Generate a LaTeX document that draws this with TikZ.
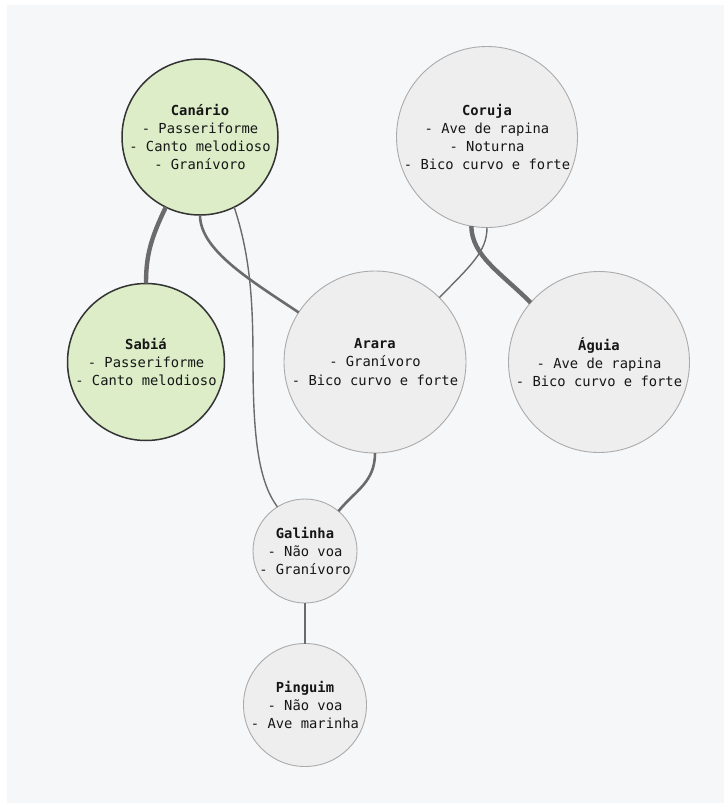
\documentclass[tikz,border=0pt]{standalone}
\usepackage{fontspec}
\setmonofont{DejaVu Sans Mono}
\definecolor{canvas}{HTML}{F6F7F9}
\definecolor{greenfill}{HTML}{DCEDC8}
\definecolor{greenline}{HTML}{333333}
\definecolor{greyfill}{HTML}{EEEEEE}
\definecolor{greyline}{HTML}{ABABAB}
\definecolor{edgecol}{HTML}{6B6B6B}
\definecolor{txt}{HTML}{161616}
\tikzset{
  bird/.style={circle, inner sep=0pt, outer sep=0pt},
  seen/.style={bird, fill=greenfill, draw=greenline, line width=1.5pt},
  plain/.style={bird, fill=greyfill, draw=greyline, line width=0.9pt},
  info/.style={align=center, font=\ttfamily\fontsize{13.8}{18.3}\selectfont, text=txt, inner sep=0pt},
  strong/.style={draw=edgecol, line width=4.4pt},
  medium/.style={draw=edgecol, line width=2.6pt},
  weak/.style={draw=edgecol, line width=1.4pt},
}
\begin{document}
\begin{tikzpicture}[x=1pt, y=-1pt]
\useasboundingbox (0,0) rectangle (724,803);
\fill[white] (0,0) rectangle (724,803);
\fill[canvas] (7,5) rectangle (724,803);

% circles
\node[seen,  minimum size=156pt] (canario) at (200,137) {};
\node[plain, minimum size=181pt] (coruja)  at (487,137) {};
\node[seen,  minimum size=157pt] (sabia)   at (146,362) {};
\node[plain, minimum size=182pt] (arara)   at (375,362) {};
\node[plain, minimum size=181pt] (aguia)   at (599,362) {};
\node[plain, minimum size=104pt] (galinha) at (305,551) {};
\node[plain, minimum size=123pt] (pinguim) at (305,705) {};

% connections
\draw[strong] (canario.244) .. controls (151,238) and (146,255) .. (sabia.90);
\draw[medium] (canario.270) .. controls (200,250) and (250,280) .. (arara.147);
\draw[weak] (canario.296) .. controls (250,255) and (253,300) .. (253,360)
            .. controls (253,440) and (259,482) .. (galinha.122);
\draw[weak] (coruja.270) .. controls (487,252) and (470,266) .. (arara.45);
\draw[strong] (coruja.260) .. controls (472,256) and (500,272) .. (aguia.139);
\draw[medium] (arara.270) .. controls (375,482) and (356,490) .. (galinha.50);
\draw[medium] (galinha.270) -- (pinguim.90);

% labels
\node[info] (canario-t) at (canario) {\textbf{Canário}\\- Passeriforme\\- Canto melodioso\\- Granívoro};
\node[info] (coruja-t)  at (coruja)  {\textbf{Coruja}\\- Ave de rapina\\- Noturna\\- Bico curvo e forte};
\node[info] (sabia-t)   at (sabia)   {\textbf{Sabiá}\\- Passeriforme\\- Canto melodioso};
\node[info] (arara-t)   at (arara)   {\textbf{Arara}\\- Granívoro\\- Bico curvo e forte};
\node[info] (aguia-t)   at (aguia)   {\textbf{Águia}\\- Ave de rapina\\- Bico curvo e forte};
\node[info] (galinha-t) at (galinha) {\textbf{Galinha}\\- Não voa\\- Granívoro};
\node[info] (pinguim-t) at (pinguim) {\textbf{Pinguim}\\- Não voa\\- Ave marinha};
\end{tikzpicture}
\end{document}
